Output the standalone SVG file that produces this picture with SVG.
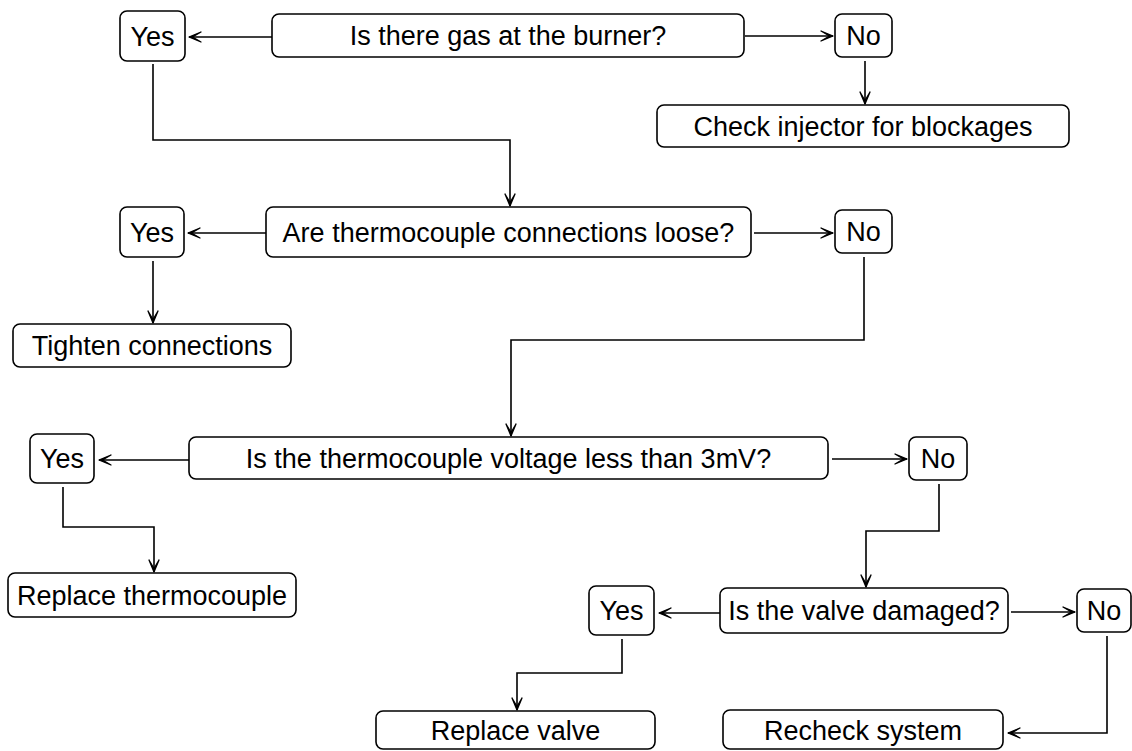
<svg xmlns="http://www.w3.org/2000/svg" width="1132" height="751" viewBox="0 0 1132 751">
<style>
.box{fill:#fff;stroke:#000;stroke-width:1.6}
.lbl{font-family:"Liberation Sans",Arial,sans-serif;font-size:27px;fill:#000;text-anchor:middle}
.con{fill:none;stroke:#000;stroke-width:1.6;marker-end:url(#arr)}
</style>
<defs>
<marker id="arr" viewBox="0 0 14 12" refX="13" refY="6" markerWidth="14" markerHeight="12" markerUnits="userSpaceOnUse" orient="auto">
<path d="M1,1 L13,6 L1,11 L9.5,6 Z" fill="#000" stroke="#000" stroke-width="1.3" stroke-linejoin="round"/>
</marker>
</defs>
<rect width="1132" height="751" fill="#fff"/>
<g id="connectors">
<path class="con" d="M272,37 H189"/>
<path class="con" d="M745,36 H833"/>
<path class="con" d="M865,61 V104"/>
<path class="con" d="M153,64 V140 H510 V206"/>
<path class="con" d="M266,233 H188"/>
<path class="con" d="M754,233 H833"/>
<path class="con" d="M153,261 V323"/>
<path class="con" d="M864,257 V340 H511 V436"/>
<path class="con" d="M189,460 H99"/>
<path class="con" d="M832,459 H907"/>
<path class="con" d="M63,487 V527 H154 V572"/>
<path class="con" d="M939,484 V531 H866 V587"/>
<path class="con" d="M720,613 H659"/>
<path class="con" d="M1011,612 H1075"/>
<path class="con" d="M622,639 V673 H517 V710"/>
<path class="con" d="M1107,636 V733 H1008"/>
</g>
<g id="q1"><rect class="box" x="272" y="14" width="472" height="43" rx="7"/><text class="lbl" x="508" y="45">Is there gas at the burner?</text></g>
<g id="yes1"><rect class="box" x="120" y="11" width="65" height="50" rx="7"/><text class="lbl" x="152.5" y="46">Yes</text></g>
<g id="no1"><rect class="box" x="835" y="14" width="57" height="43" rx="7"/><text class="lbl" x="863.5" y="45">No</text></g>
<g id="check"><rect class="box" x="657" y="105" width="412" height="42" rx="7"/><text class="lbl" x="863" y="136">Check injector for blockages</text></g>
<g id="q2"><rect class="box" x="266" y="207" width="485" height="50" rx="7"/><text class="lbl" x="508.5" y="242">Are thermocouple connections loose?</text></g>
<g id="yes2"><rect class="box" x="120" y="207" width="64" height="50" rx="7"/><text class="lbl" x="152" y="242">Yes</text></g>
<g id="no2"><rect class="box" x="835" y="210" width="57" height="43" rx="7"/><text class="lbl" x="863.5" y="241">No</text></g>
<g id="tighten"><rect class="box" x="13" y="324" width="278" height="43" rx="7"/><text class="lbl" x="152" y="355">Tighten connections</text></g>
<g id="q3"><rect class="box" x="189" y="437" width="639" height="42" rx="7"/><text class="lbl" x="508.5" y="468">Is the thermocouple voltage less than 3mV?</text></g>
<g id="yes3"><rect class="box" x="30" y="434" width="64" height="49" rx="7"/><text class="lbl" x="62" y="468">Yes</text></g>
<g id="no3"><rect class="box" x="909" y="437" width="58" height="43" rx="7"/><text class="lbl" x="938" y="468">No</text></g>
<g id="replace-thermo"><rect class="box" x="8" y="573" width="288" height="44" rx="7"/><text class="lbl" x="152" y="605">Replace thermocouple</text></g>
<g id="q4"><rect class="box" x="720" y="588" width="288" height="45" rx="7"/><text class="lbl" x="864" y="620">Is the valve damaged?</text></g>
<g id="yes4"><rect class="box" x="589" y="586" width="65" height="49" rx="7"/><text class="lbl" x="621.5" y="620">Yes</text></g>
<g id="no4"><rect class="box" x="1077" y="589" width="54" height="43" rx="7"/><text class="lbl" x="1104" y="620">No</text></g>
<g id="replace-valve"><rect class="box" x="376" y="711" width="279" height="38" rx="7"/><text class="lbl" x="515.5" y="740">Replace valve</text></g>
<g id="recheck"><rect class="box" x="723" y="710" width="280" height="39" rx="7"/><text class="lbl" x="863" y="740">Recheck system</text></g>
</svg>
